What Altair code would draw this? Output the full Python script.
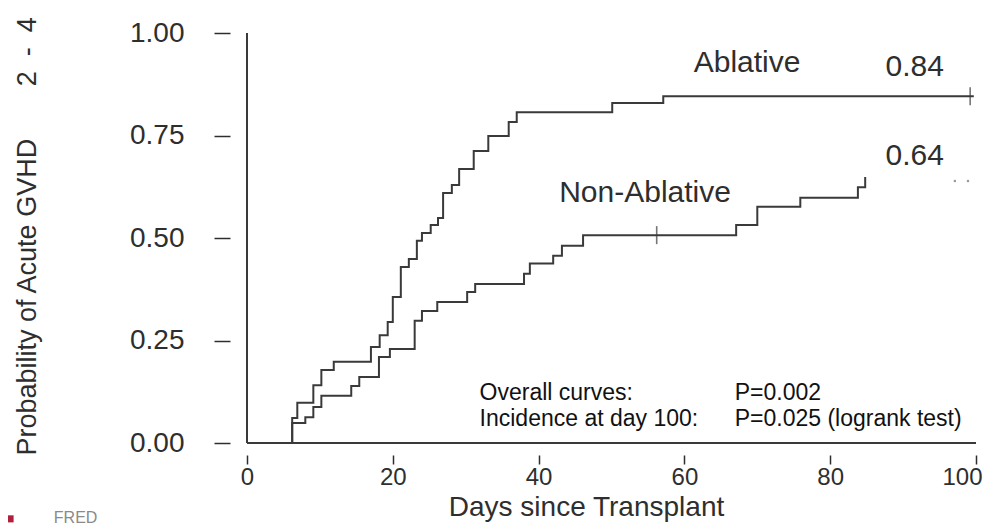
import altair as alt
import pandas as pd

# ---- data ----
days_abl = [6.2, 6.2, 6.9, 9.1, 10.2, 11.9, 17.0, 18.2, 19.3, 20.0, 21.1, 22.2, 23.3, 24.0,
            25.2, 26.2, 26.9, 28.1, 29.1, 31.1, 33.1, 35.9, 37.0, 50.1, 57.1, 99.7]
prob_abl = [0.0, 0.061, 0.098, 0.141, 0.178, 0.198, 0.234, 0.263, 0.295, 0.356, 0.429, 0.449,
            0.493, 0.512, 0.532, 0.549, 0.610, 0.629, 0.668, 0.712, 0.749, 0.783, 0.807, 0.829,
            0.846, 0.846]

days_non = [6.2, 6.2, 8.0, 9.1, 10.2, 14.3, 15.4, 18.1, 19.6, 23.0, 24.0, 26.1, 30.2, 31.3,
            38.0, 38.8, 42.0, 43.2, 46.1, 67.1, 70.0, 75.9, 83.8, 84.8]
prob_non = [0.0, 0.049, 0.063, 0.088, 0.115, 0.139, 0.161, 0.210, 0.229, 0.298, 0.322, 0.344,
            0.368, 0.388, 0.413, 0.438, 0.457, 0.481, 0.507, 0.532, 0.576, 0.598, 0.624, 0.649]

censor_day = [99.2, 56.2]
censor_prob = [0.846, 0.507]

dot_day = [97.1, 98.9]
dot_prob = [0.639, 0.639]

x_ticks = [0, 20, 40, 60, 80, 100]
y_ticks = [0.0, 0.25, 0.50, 0.75, 1.00]

center_labels = ["Ablative", "0.84", "0.64", "Non-Ablative"]
center_day = [68.6, 91.6, 91.6, 54.6]
center_prob = [0.928, 0.916, 0.700, 0.610]

stat_labels = ["Overall curves:", "P=0.002", "Incidence at day 100:", "P=0.025 (logrank test)"]
stat_day = [31.9, 66.9, 31.9, 66.9]
stat_prob = [0.122, 0.122, 0.058, 0.058]

footer_label = ["FRED"]
footer_day = [-26.5]
footer_prob = [-0.163]
badge_day = [-32.5]
badge_prob = [-0.185]

y_title = "Probability of Acute GVHD" + "\u00a0" * 7 + "2\u00a0\u00a0-\u00a0\u00a04"
x_title = "Days since Transplant"

FONT = "Liberation Sans, Arial, Helvetica, sans-serif"
INK = "#2e2e2e"
LINE = "#3a3a3a"

curves = pd.DataFrame({
    "day": days_abl + days_non,
    "prob": prob_abl + prob_non,
    "group": ["Ablative"] * len(days_abl) + ["Non-Ablative"] * len(days_non),
})
censor = pd.DataFrame({"day": censor_day, "prob": censor_prob})
dots = pd.DataFrame({"day": dot_day, "prob": dot_prob})
clab = pd.DataFrame({"day": center_day, "prob": center_prob, "label": center_labels})
slab = pd.DataFrame({"day": stat_day, "prob": stat_prob, "label": stat_labels})
flab = pd.DataFrame({"day": footer_day, "prob": footer_prob, "label": footer_label})
badge = pd.DataFrame({"day": badge_day, "prob": badge_prob})

xscale = alt.Scale(domain=[0, 100], nice=False, zero=False)
yscale = alt.Scale(domain=[0, 1], nice=False, zero=False)

x_axis = alt.Axis(values=x_ticks, format="d", domain=False, grid=False, offset=12,
                  tickSize=9, tickWidth=1.5, tickColor=INK, labelPadding=1, labelFlush=False,
                  labelAlign={"condition": {"test": "datum.value === 100", "value": "right"},
                              "value": "center"},
                  labelOffset={"condition": {"test": "datum.value === 100", "value": 6},
                               "value": 0},
                  labelFontSize=24, labelFont=FONT, labelColor=INK,
                  title=x_title, titleFont=FONT, titleFontSize=28, titleFontWeight="normal",
                  titleColor=INK, titleX=339, titleY=60, titleBaseline="alphabetic",
                  titleAlign="center")
y_axis = alt.Axis(values=y_ticks, format=".2f", domain=False, grid=False, offset=17,
                  tickSize=16, tickWidth=1.5, tickColor=INK, labelPadding=30, labelFlush=False,
                  labelFontSize=28, labelFont=FONT, labelColor=INK,
                  title=y_title, titleFont=FONT, titleFontSize=27, titleFontWeight="normal",
                  titleColor=INK, titleAngle=270, titleX=-203, titleY=422,
                  titleAlign="left", titleBaseline="middle")

X = alt.X("day:Q", scale=xscale, axis=x_axis)
Y = alt.Y("prob:Q", scale=yscale, axis=y_axis)

lines = alt.Chart(curves).mark_line(interpolate="step-after", color=LINE, strokeWidth=2).encode(
    x=X, y=Y, detail="group:N")

frame_y = alt.Chart(pd.DataFrame({"day": [0], "prob": [0], "prob2": [1]})).mark_rule(
    color=LINE, strokeWidth=2).encode(x=X, y=Y, y2="prob2:Q")
frame_x = alt.Chart(pd.DataFrame({"day": [0], "day2": [100], "prob": [0]})).mark_rule(
    color=LINE, strokeWidth=2).encode(x=X, x2="day2:Q", y=Y)

ticks = alt.Chart(censor).mark_tick(orient="vertical", size=18, thickness=1.6, color=LINE).encode(
    x=X, y=Y)

dotmarks = alt.Chart(dots).mark_square(size=5, color="#9a9a9a", opacity=1).encode(x=X, y=Y)

ctext = alt.Chart(clab).mark_text(align="center", baseline="middle", font=FONT, fontSize=30,
                                  color=INK).encode(x=X, y=Y, text="label:N")

stext = alt.Chart(slab).mark_text(align="left", baseline="middle", font=FONT, fontSize=23,
                                  color="#111111").encode(x=X, y=Y, text="label:N")

ftext = alt.Chart(flab).mark_text(align="left", baseline="top", font=FONT, fontSize=16,
                                  color="#8a8a8a").encode(x=X, y=Y, text="label:N")

badgemark = alt.Chart(badge).mark_square(size=50, color="#b0203c", opacity=1).encode(x=X, y=Y)

chart = alt.layer(lines, frame_y, frame_x, ticks, dotmarks, ctext, stext, ftext,
                  badgemark).properties(
    width=729, height=410,
    padding={"left": 239, "top": 25, "right": 7, "bottom": 90},
    autosize=alt.AutoSizeParams(type="none"),
    background="white",
).configure_view(stroke=None)

chart.save("out.html", embed_options={"renderer": "svg", "actions": False})
